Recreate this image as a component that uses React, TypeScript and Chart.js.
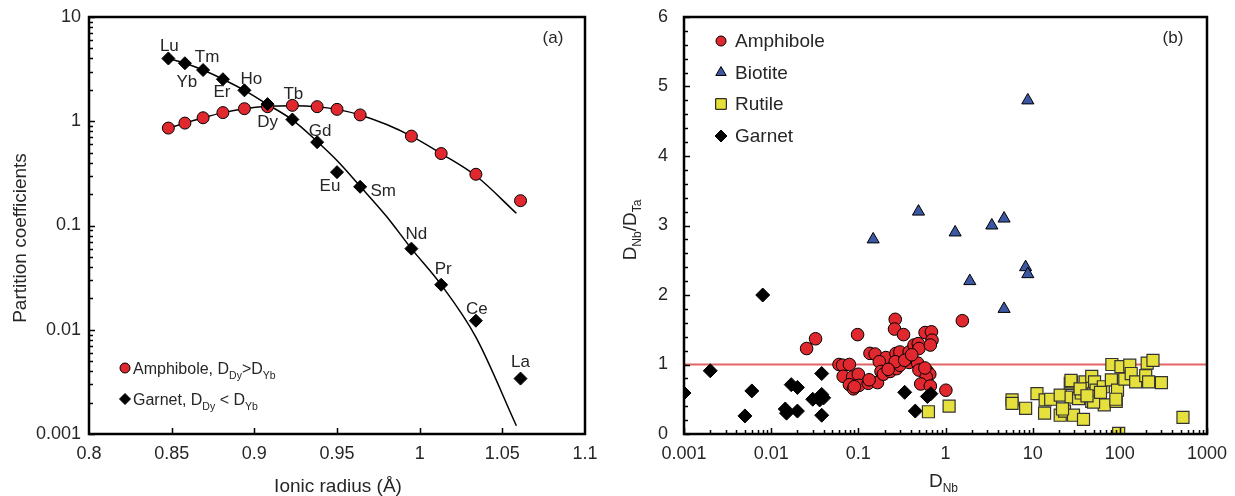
import React, { useEffect, useRef } from 'react';
import { Chart, registerables } from 'chart.js';

Chart.register(...registerables);

const FONT = '"Liberation Sans", Arial, Helvetica, sans-serif';
const TEXT = '#262626';

// ---------------- Panel (a) data ----------------
const reeElements = ['Lu', 'Yb', 'Tm', 'Er', 'Ho', 'Dy', 'Tb', 'Gd', 'Eu', 'Sm', 'Nd', 'Pr', 'Ce', 'La'];
const ionicRadius = [0.848, 0.858, 0.869, 0.881, 0.894, 0.908, 0.923, 0.938, 0.95, 0.964, 0.995, 1.013, 1.034, 1.061];
const amphiboleD = [0.86, 0.96, 1.08, 1.21, 1.32, 1.38, 1.42, 1.38, 1.3, 1.15, 0.72, 0.49, 0.31, 0.173];
const garnetD = [4.0, 3.6, 3.1, 2.53, 1.98, 1.46, 1.04, 0.63, 0.325, 0.235, 0.06, 0.027, 0.0122, 0.0034];
const amphiboleFitX = [0.848, 0.858, 0.869, 0.881, 0.894, 0.908, 0.923, 0.938, 0.95, 0.964, 0.98, 0.995, 1.013, 1.034, 1.0585];
const amphiboleFitY = [0.86, 0.96, 1.08, 1.21, 1.32, 1.39, 1.41, 1.38, 1.3, 1.15, 0.93, 0.72, 0.49, 0.3, 0.131];
const garnetFitX = [0.848, 0.858, 0.869, 0.881, 0.894, 0.908, 0.923, 0.938, 0.95, 0.964, 0.98, 0.995, 1.013, 1.034, 1.0585];
const garnetFitY = [4.0, 3.6, 3.1, 2.53, 1.98, 1.45, 1.03, 0.64, 0.42, 0.238, 0.122, 0.06, 0.027, 0.0085, 0.0012];
const radiusTicks = [0.8, 0.85, 0.9, 0.95, 1, 1.05, 1.1];
const radiusTickLabels = ['0.8', '0.85', '0.9', '0.95', '1', '1.05', '1.1'];
const partitionTicks = [0.001, 0.01, 0.1, 1, 10];
const partitionTickLabels = ['0.001', '0.01', '0.1', '1', '10'];

// ---------------- Panel (b) data: [D_Nb, D_Nb/D_Ta] ----------------
const amphiboleNbTa = [
  [0.0255, 1.23], [0.0323, 1.37], [0.098, 1.43], [0.06, 1.0], [0.066, 0.99], [0.079, 1.0], [0.067, 0.83],
  [0.086, 0.82], [0.1, 0.86], [0.079, 0.71], [0.088, 0.65], [0.102, 0.7], [0.13, 0.73], [0.166, 0.74],
  [0.133, 0.78], [0.136, 1.16], [0.156, 1.15], [0.207, 1.1], [0.174, 1.04], [0.182, 0.9], [0.194, 0.86],
  [0.232, 0.9], [0.274, 0.94], [0.3, 0.99], [0.27, 1.16], [0.3, 1.18], [0.383, 1.03], [0.39, 1.11],
  [0.383, 1.18], [0.436, 1.28], [0.487, 1.3], [0.496, 1.23], [0.48, 1.02], [0.496, 0.92], [0.62, 0.9],
  [0.66, 0.86], [0.6, 0.82], [0.52, 0.72], [0.67, 0.69], [0.265, 1.65], [0.26, 1.51], [0.33, 1.43],
  [0.583, 1.46], [0.69, 1.47], [0.7, 1.35], [0.67, 1.28], [1.01, 0.63], [1.56, 1.63], [0.265, 1.04],
  [0.22, 0.93], [0.34, 1.06], [0.41, 1.14], [0.58, 0.95], [0.09, 0.68],
];
const biotiteNbTa = [
  [8.8, 4.8], [0.49, 3.2], [0.148, 2.8], [1.29, 2.9], [3.4, 3.0], [4.7, 3.1], [1.9, 2.2], [8.3, 2.4],
  [8.8, 2.3], [4.7, 1.8],
];
const rutileNbTa = [
  [0.637, 0.32], [1.1, 0.4], [5.8, 0.49], [5.8, 0.44], [8.3, 0.37], [11.2, 0.58], [13.7, 0.3], [13.9, 0.49],
  [16.1, 0.5], [20.7, 0.56], [20.7, 0.27], [23.2, 0.33], [27, 0.73], [28, 0.75], [27.6, 0.53], [29.4, 0.27],
  [33.6, 0.51], [38.3, 0.21], [36.1, 0.59], [40, 0.75], [47.6, 0.83], [51.3, 0.75], [47.6, 0.47],
  [53.4, 0.63], [55.7, 0.54], [64.7, 0.68], [66.2, 0.42], [80, 0.78], [81, 1.0], [91, 0.47], [94, 0.63],
  [97, 0.01], [103, 0.97], [114, 0.79], [130, 0.99], [135, 0.87], [152, 0.75], [198, 0.84], [206, 1.02],
  [214, 0.75], [240, 1.06], [300, 0.74], [530, 0.24], [50, 0.46], [90, 0.5], [22, 0.36], [27.5, 0.77],
  [60, 0.6], [35, 0.65], [42, 0.55],
];
const garnetNbTa = [
  [0.001, 0.59], [0.002, 0.91], [0.005, 0.26], [0.006, 0.62], [0.008, 2.0], [0.0145, 0.36], [0.015, 0.3],
  [0.017, 0.71], [0.02, 0.67], [0.02, 0.33], [0.03, 0.5], [0.036, 0.49], [0.038, 0.87], [0.038, 0.57],
  [0.04, 0.52], [0.038, 0.27], [0.34, 0.6], [0.45, 0.33], [0.62, 0.54], [0.68, 0.58],
];
const referenceRatio = 1;
const dNbTicks = [0.001, 0.01, 0.1, 1, 10, 100, 1000];
const dNbTickLabels = ['0.001', '0.01', '0.1', '1', '10', '100', '1000'];
const ratioTicks = [0, 1, 2, 3, 4, 5, 6];

// ---------------- styles ----------------
const RED = '#e0282e';
const BLUE = '#3c58a3';
const YELLOW = '#e6e03c';
const LINE_RED = '#e36464';

// label offsets (pixels) relative to garnet points in panel (a)
const labelOffsets: Record<string, [number, number]> = {
  Lu: [1, -12], Yb: [2, 19], Tm: [4, -13], Er: [-1, 13], Ho: [7, -11], Dy: [0, 18], Tb: [1, -25],
  Gd: [3, -11], Eu: [-7, 14], Sm: [23, 4], Nd: [5, -14], Pr: [2, -15], Ce: [1, -11], La: [0, -16],
};

type Seg = { t: string; sub?: boolean };

function drawRich(ctx: CanvasRenderingContext2D, segs: Seg[], x: number, baseline: number, size: number, subSize: number, subShift: number, align: 'left' | 'center' = 'left') {
  let w = 0;
  for (const s of segs) {
    ctx.font = `${s.sub ? subSize : size}px ${FONT}`;
    w += ctx.measureText(s.t).width;
  }
  let cx = align === 'center' ? x - w / 2 : x;
  ctx.textAlign = 'left';
  ctx.textBaseline = 'alphabetic';
  for (const s of segs) {
    ctx.font = `${s.sub ? subSize : size}px ${FONT}`;
    ctx.fillText(s.t, cx, baseline + (s.sub ? subShift : 0));
    cx += ctx.measureText(s.t).width;
  }
}

function marker(ctx: CanvasRenderingContext2D, style: string, x: number, y: number, r: number, fill: string, stroke: string) {
  ctx.save();
  ctx.fillStyle = fill;
  ctx.strokeStyle = stroke;
  ctx.lineWidth = 1;
  ctx.beginPath();
  if (style === 'circle') ctx.arc(x, y, r, 0, Math.PI * 2);
  else if (style === 'rectRot') {
    ctx.moveTo(x, y - r); ctx.lineTo(x + r, y); ctx.lineTo(x, y + r); ctx.lineTo(x - r, y); ctx.closePath();
  } else if (style === 'rect') {
    const s = r * Math.SQRT1_2;
    ctx.rect(x - s, y - s, 2 * s, 2 * s);
  } else if (style === 'triangle') {
    for (let k = 0; k < 3; k++) {
      const a = (k * 2 * Math.PI) / 3;
      const px = x + Math.sin(a) * r, py = y - Math.cos(a) * r;
      if (k === 0) ctx.moveTo(px, py); else ctx.lineTo(px, py);
    }
    ctx.closePath();
  }
  ctx.fill();
  ctx.stroke();
  ctx.restore();
}

function logMinor(min: number, max: number) {
  const out: { v: number; major: boolean }[] = [];
  for (let e = Math.round(Math.log10(min)); e < Math.round(Math.log10(max)); e++) {
    for (let m = 1; m <= 9; m++) out.push({ v: m * Math.pow(10, e), major: m === 1 });
  }
  out.push({ v: max, major: true });
  return out;
}

function frameAndTicks(chart: any, xTicks: { v: number; major: boolean }[], yTicks: { v: number; major: boolean }[]) {
  const { ctx, chartArea: a, scales } = chart;
  ctx.save();
  ctx.strokeStyle = '#000';
  ctx.lineWidth = 1.5;
  ctx.beginPath();
  for (const t of xTicks) {
    const px = Math.round(scales.x.getPixelForValue(t.v)) + 0.5;
    const len = t.major ? 6 : 4;
    ctx.moveTo(px, a.bottom);
    ctx.lineTo(px, a.bottom - len);
  }
  for (const t of yTicks) {
    const py = Math.round(scales.y.getPixelForValue(t.v)) + 0.5;
    const len = t.major ? 6 : 4;
    ctx.moveTo(a.left, py);
    ctx.lineTo(a.left + len, py);
  }
  ctx.stroke();
  ctx.lineWidth = 2.5;
  ctx.strokeRect(a.left, a.top, a.right - a.left, a.bottom - a.top);
  ctx.restore();
}

const noPadX = (s: any) => { s.height = 62; s.paddingLeft = 0; s.paddingRight = 0; };

function configA(): any {
  const pointsAmph = ionicRadius.map((x, i) => ({ x, y: amphiboleD[i] }));
  const pointsGar = ionicRadius.map((x, i) => ({ x, y: garnetD[i] }));
  const fitAmph = amphiboleFitX.map((x, i) => ({ x, y: amphiboleFitY[i] }));
  const fitGar = garnetFitX.map((x, i) => ({ x, y: garnetFitY[i] }));
  const plugin = {
    id: 'panelA',
    afterDatasetsDraw(chart: any) {
      const { ctx, chartArea: a, scales } = chart;
      ctx.save();
      ctx.fillStyle = TEXT;
      ctx.font = `17px ${FONT}`;
      ctx.textAlign = 'center';
      ctx.textBaseline = 'middle';
      reeElements.forEach((el, i) => {
        const [dx, dy] = labelOffsets[el];
        ctx.fillText(el, scales.x.getPixelForValue(ionicRadius[i]) + dx, scales.y.getPixelForValue(garnetD[i]) + dy);
      });
      ctx.font = `17px ${FONT}`;
      ctx.fillText('(a)', a.right - 32, a.top + 21);
      // legend
      const lx = a.left + 36;
      const ly1 = a.bottom - 66;
      const ly2 = a.bottom - 35;
      marker(ctx, 'circle', lx, ly1, 5, RED, '#000');
      marker(ctx, 'rectRot', lx, ly2, 5.5, '#000', '#000');
      ctx.fillStyle = TEXT;
      drawRich(ctx, [{ t: 'Amphibole, D' }, { t: 'Dy', sub: true }, { t: '>D' }, { t: 'Yb', sub: true }], lx + 8, ly1 + 6, 16, 10.5, 5);
      drawRich(ctx, [{ t: 'Garnet, D' }, { t: 'Dy', sub: true }, { t: ' < D' }, { t: 'Yb', sub: true }], lx + 8, ly2 + 6, 16, 10.5, 5);
      // axis titles
      ctx.font = `19px ${FONT}`;
      ctx.textAlign = 'center';
      ctx.textBaseline = 'middle';
      ctx.fillText('Ionic radius (Å)', (a.left + a.right) / 2 + 1, 487);
      ctx.save();
      ctx.translate(21, 238);
      ctx.rotate(-Math.PI / 2);
      ctx.fillText('Partition coefficients', 0, 0);
      ctx.restore();
      ctx.restore();
      const xt = [0.85, 0.9, 0.95, 1, 1.05].map((v) => ({ v, major: true }));
      frameAndTicks(chart, xt, logMinor(0.001, 10));
    },
  };
  return {
    type: 'scatter',
    data: {
      datasets: [
        { data: pointsGar, pointStyle: 'rectRot', pointRadius: 6.5, backgroundColor: '#000', borderColor: '#000', pointBorderWidth: 1, showLine: false, order: 1 },
        { data: pointsAmph, pointStyle: 'circle', pointRadius: 6, backgroundColor: RED, borderColor: '#000', pointBorderWidth: 1, showLine: false, order: 2 },
        { data: fitAmph, showLine: true, pointRadius: 0, borderColor: '#000', borderWidth: 1.5, cubicInterpolationMode: 'monotone', order: 5 },
        { data: fitGar, showLine: true, pointRadius: 0, borderColor: '#000', borderWidth: 1.5, cubicInterpolationMode: 'monotone', order: 6 },
      ],
    },
    options: {
      responsive: false,
      animation: false,
      devicePixelRatio: 1,
      layout: { padding: { left: 0, right: 32, top: 17, bottom: 0 } },
      plugins: { legend: { display: false }, tooltip: { enabled: false } },
      scales: {
        x: {
          type: 'linear', min: 0.8, max: 1.1,
          grid: { display: false, drawTicks: false }, border: { display: false },
          afterBuildTicks: (s: any) => { s.ticks = radiusTicks.map((v) => ({ value: v })); },
          afterFit: noPadX,
          ticks: { padding: 9, color: TEXT, font: { family: FONT, size: 18 }, maxRotation: 0, autoSkip: false, callback: (_v: any, i: number) => radiusTickLabels[i] },
        },
        y: {
          type: 'logarithmic', min: 0.001, max: 10,
          grid: { display: false, drawTicks: false }, border: { display: false },
          afterBuildTicks: (s: any) => { s.ticks = partitionTicks.map((v) => ({ value: v })); },
          afterFit: (s: any) => { s.width = 89; s.paddingTop = 0; s.paddingBottom = 0; },
          ticks: { padding: 8, color: TEXT, font: { family: FONT, size: 18 }, autoSkip: false, callback: (_v: any, i: number) => partitionTickLabels[i] },
        },
      },
    },
    plugins: [plugin],
  };
}

function configB(): any {
  const toPts = (arr: number[][]) => arr.map(([x, y]) => ({ x, y }));
  const plugin = {
    id: 'panelB',
    afterDatasetsDraw(chart: any) {
      const { ctx, chartArea: a } = chart;
      ctx.save();
      ctx.fillStyle = TEXT;
      ctx.font = `17px ${FONT}`;
      ctx.textAlign = 'center';
      ctx.textBaseline = 'middle';
      ctx.fillText('(b)', a.right - 34, a.top + 21);
      const lx = a.left + 37;
      const tx = a.left + 51;
      const rows: [string, string, number, string][] = [
        ['Amphibole', 'circle', 5, RED],
        ['Biotite', 'triangle', 6, BLUE],
        ['Rutile', 'rect', 7.5, YELLOW],
        ['Garnet', 'rectRot', 6, '#000'],
      ];
      const ys = [24, 55.5, 87, 119];
      rows.forEach(([name, st, r, fill], i) => {
        const y = a.top + ys[i];
        marker(ctx, st, lx, y, r, fill, '#000');
        ctx.fillStyle = TEXT;
        ctx.font = `19px ${FONT}`;
        ctx.textAlign = 'left';
        ctx.textBaseline = 'middle';
        ctx.fillText(name, tx, y + 1);
      });
      // axis titles
      ctx.fillStyle = TEXT;
      drawRich(ctx, [{ t: 'D' }, { t: 'Nb', sub: true }], (a.left + a.right) / 2 - 2, 487, 19, 12, 5, 'center');
      ctx.save();
      ctx.translate(12, 230);
      ctx.rotate(-Math.PI / 2);
      drawRich(ctx, [{ t: 'D' }, { t: 'Nb', sub: true }, { t: '/D' }, { t: 'Ta', sub: true }], 0, 7, 19, 12, 5, 'center');
      ctx.restore();
      ctx.restore();
      const yt: { v: number; major: boolean }[] = [];
      for (let k = 0; k <= 30; k++) yt.push({ v: k * 0.2, major: k % 5 === 0 });
      frameAndTicks(chart, logMinor(0.001, 1000), yt);
    },
  };
  return {
    type: 'scatter',
    data: {
      datasets: [
        { data: toPts(rutileNbTa), pointStyle: 'rect', pointRadius: 8.5, backgroundColor: YELLOW, borderColor: '#333', pointBorderWidth: 1.2, showLine: false, order: 1 },
        { data: toPts(biotiteNbTa), pointStyle: 'triangle', pointRadius: 7, backgroundColor: BLUE, borderColor: '#000', pointBorderWidth: 1, showLine: false, order: 2 },
        { data: toPts(garnetNbTa), pointStyle: 'rectRot', pointRadius: 7, backgroundColor: '#000', borderColor: '#000', pointBorderWidth: 1, showLine: false, order: 3 },
        { data: toPts(amphiboleNbTa), pointStyle: 'circle', pointRadius: 6.3, backgroundColor: RED, borderColor: '#000', pointBorderWidth: 1, showLine: false, order: 4 },
        { data: [{ x: dNbTicks[0], y: referenceRatio }, { x: dNbTicks[dNbTicks.length - 1], y: referenceRatio }], showLine: true, pointRadius: 0, borderColor: LINE_RED, borderWidth: 2, order: 10 },
      ],
    },
    options: {
      responsive: false,
      animation: false,
      devicePixelRatio: 1,
      layout: { padding: { left: 0, right: 28, top: 17, bottom: 0 } },
      plugins: { legend: { display: false }, tooltip: { enabled: false } },
      scales: {
        x: {
          type: 'logarithmic', min: 0.001, max: 1000,
          grid: { display: false, drawTicks: false }, border: { display: false },
          afterBuildTicks: (s: any) => { s.ticks = dNbTicks.map((v) => ({ value: v })); },
          afterFit: noPadX,
          ticks: { padding: 9, color: TEXT, font: { family: FONT, size: 18 }, maxRotation: 0, autoSkip: false, callback: (_v: any, i: number) => dNbTickLabels[i] },
        },
        y: {
          type: 'linear', min: 0, max: 6,
          grid: { display: false, drawTicks: false }, border: { display: false },
          afterBuildTicks: (s: any) => { s.ticks = ratioTicks.map((v) => ({ value: v })); },
          afterFit: (s: any) => { s.width = 67; s.paddingTop = 0; s.paddingBottom = 0; },
          ticks: { padding: 16, color: TEXT, font: { family: FONT, size: 18 }, autoSkip: false, callback: (v: any) => String(v) },
        },
      },
    },
    plugins: [plugin],
  };
}

function Panel({ make, left, width }: { make: () => any; left: number; width: number }) {
  const ref = useRef<HTMLCanvasElement>(null);
  useEffect(() => {
    const chart = new Chart(ref.current as HTMLCanvasElement, make());
    return () => chart.destroy();
  }, []);
  return (
    <canvas
      ref={ref}
      width={width}
      height={496}
      style={{ position: 'absolute', left, top: 0, width, height: 496, display: 'block' }}
    />
  );
}

export default function App() {
  return (
    <div style={{ position: 'absolute', left: 0, top: 0, width: 1235, height: 496, background: '#fff', overflow: 'hidden' }}>
      <Panel make={configA} left={0} width={617} />
      <Panel make={configB} left={617} width={618} />
    </div>
  );
}
